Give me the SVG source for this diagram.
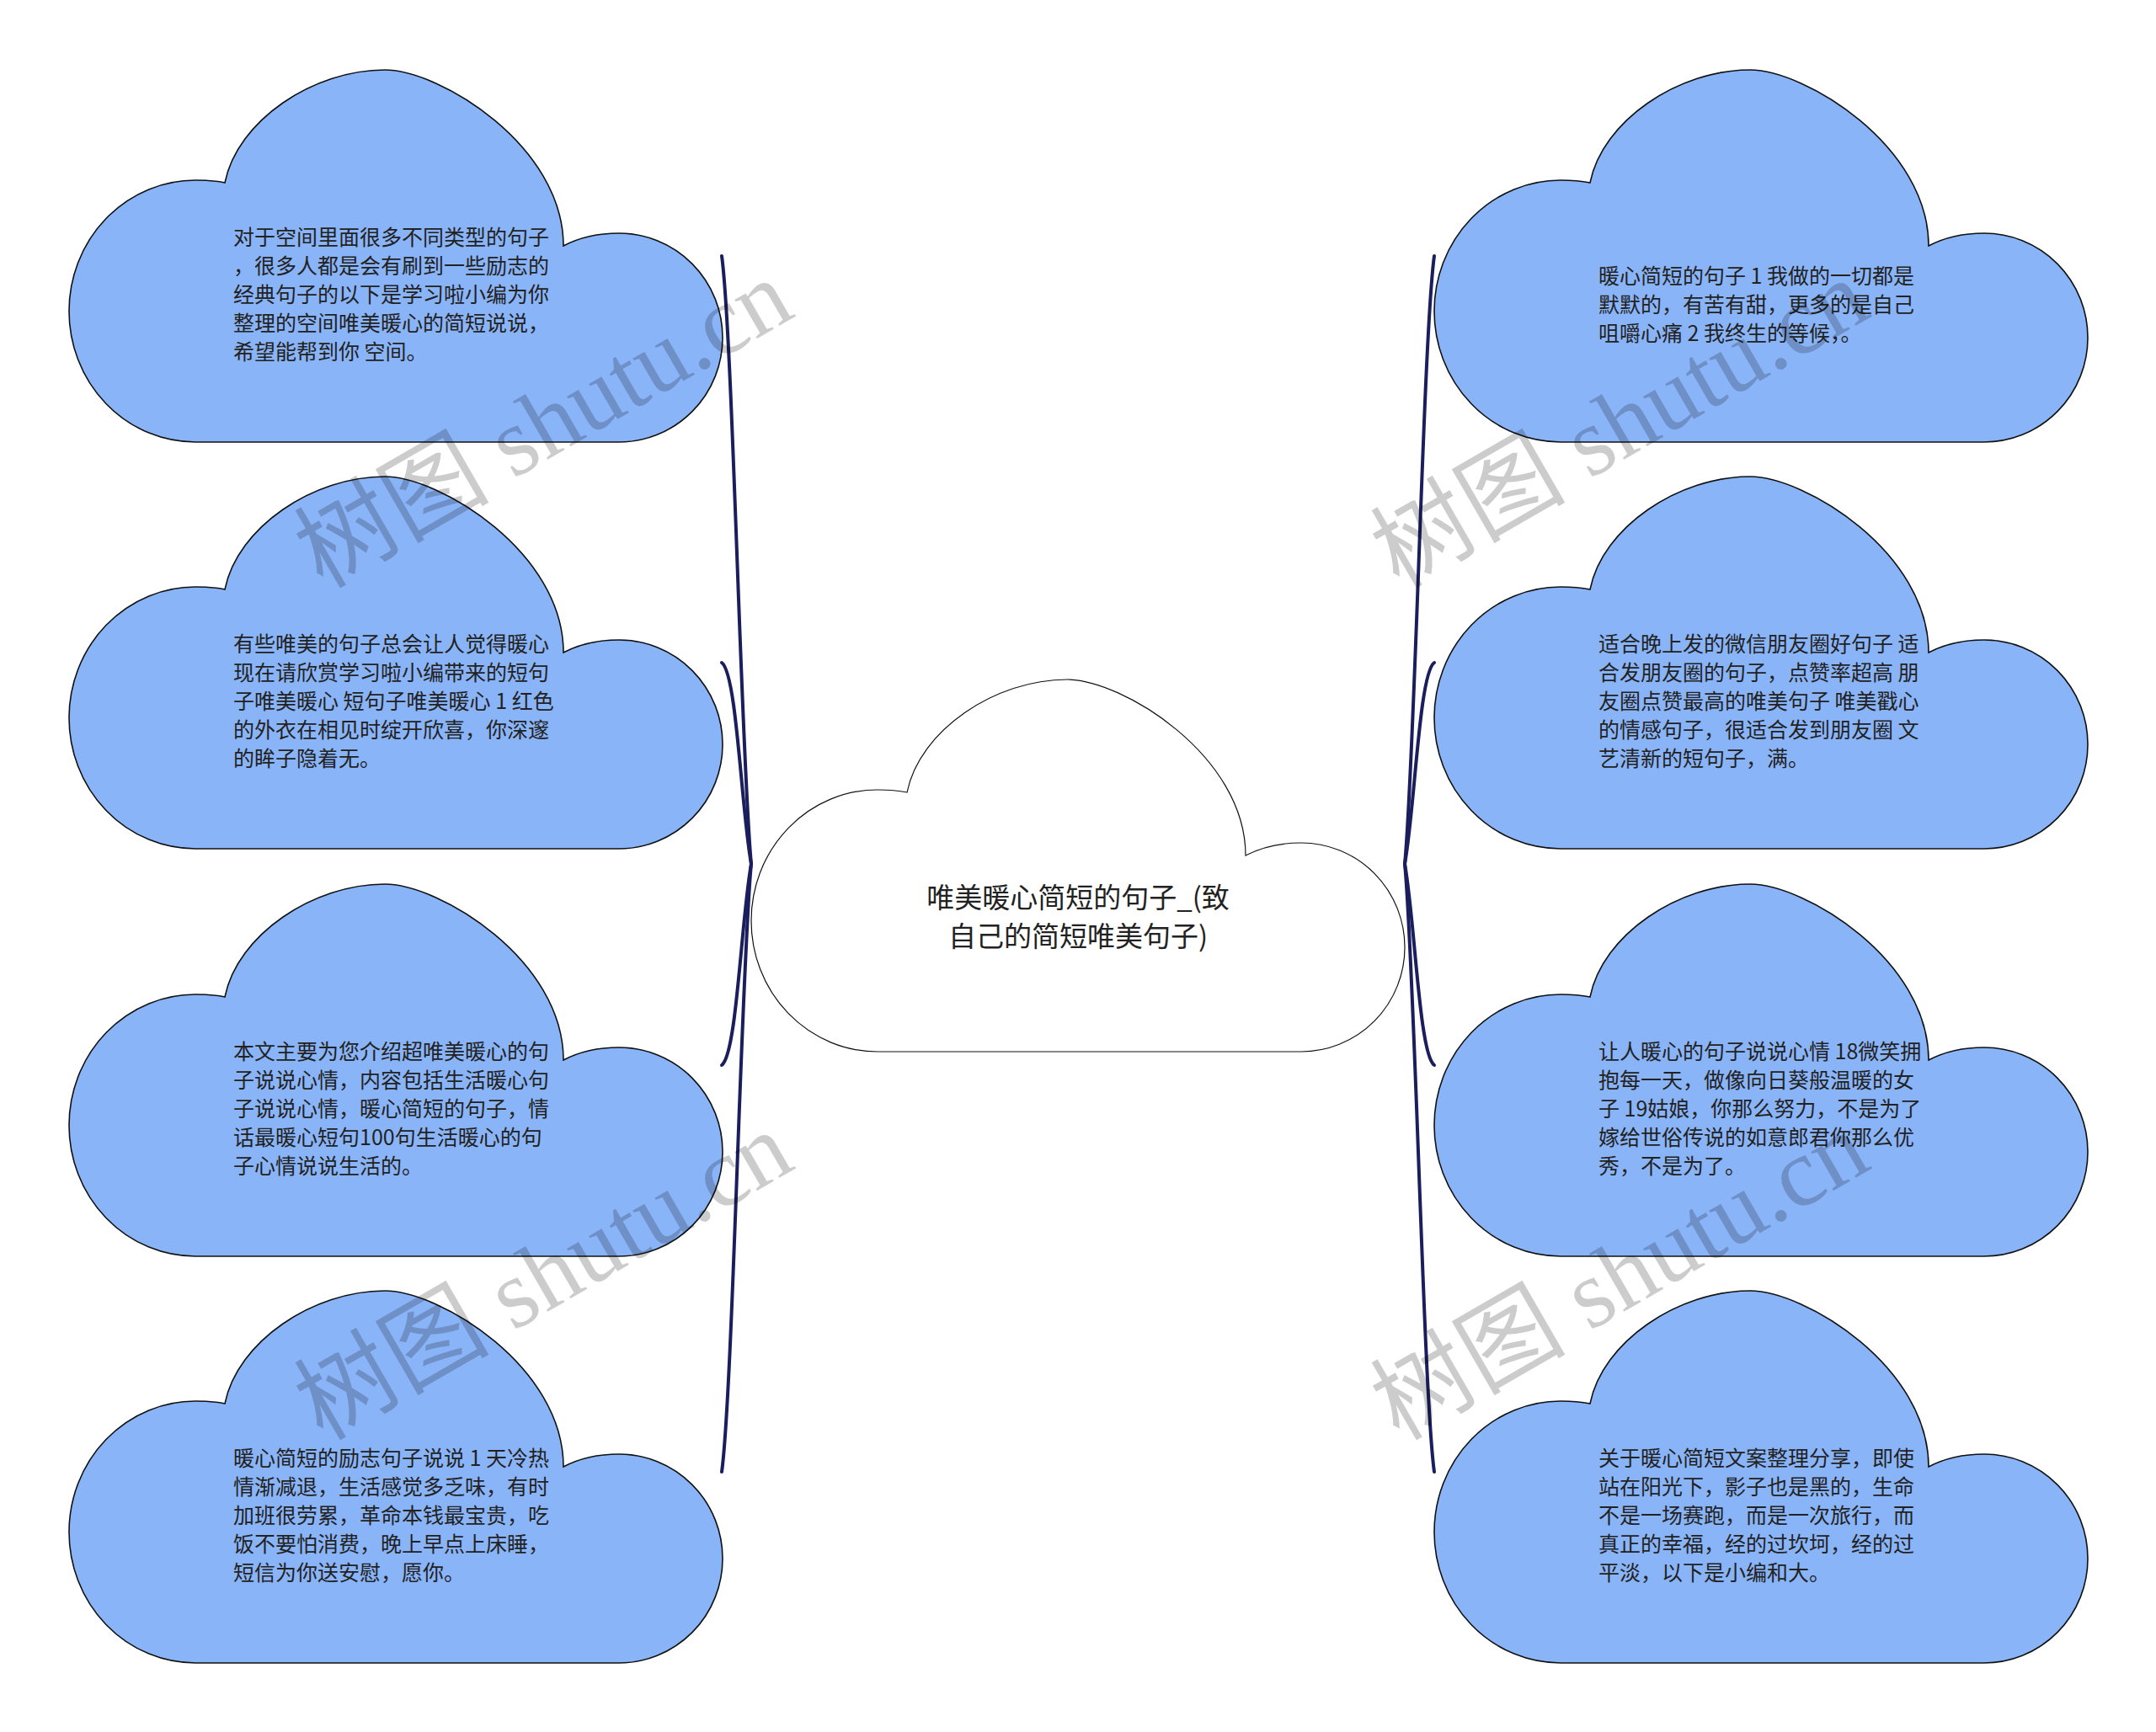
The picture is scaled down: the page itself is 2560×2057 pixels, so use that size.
<svg xmlns="http://www.w3.org/2000/svg" xmlns:xlink="http://www.w3.org/1999/xlink" width="2560" height="2057" viewBox="0 0 2560 2057">
<style>
.blue{fill:#8ab4f8;stroke:#111;stroke-width:1.6}
.center{fill:#fff;stroke:#111;stroke-width:1.2}
.t{font-family:"Noto Sans CJK SC","Noto Sans",sans-serif;font-size:25px;fill:#222}
.ct{font-family:"Noto Sans CJK SC","Noto Sans",sans-serif;font-size:33px;fill:#222;text-anchor:middle}
.conn{fill:none;stroke:#1b1e5c;stroke-width:4;stroke-linecap:round}
.wm{font-family:"Liberation Serif","Noto Sans CJK SC",serif;font-size:116px;fill:#000;fill-opacity:0.2}
</style>
<defs>
<path id="cloud" d="M150,442 A150 155.5 0 0 1 0,286.5 A150 155.5 0 0 1 150,131 C163,131 175,132 185,134 C200,60 290,0 375,0 C440,0 587,90 587,209 C606,199 628,194 653,194 A123 124 0 0 1 776,318 A123 124 0 0 1 653,442 Z"/>
</defs>
<rect width="2560" height="2057" fill="#fff"/>
<g id="connectors">
<path class="conn" d="M892,1026 C880,900 870,400 857,304"/>
<path class="conn" d="M892,1026 C880,960 875,800 857,787"/>
<path class="conn" d="M892,1026 C880,1092 875,1252 857,1265"/>
<path class="conn" d="M892,1026 C880,1152 870,1652 857,1748"/>
<path class="conn" d="M1668,1026 C1680,900 1690,400 1703,304"/>
<path class="conn" d="M1668,1026 C1680,960 1685,800 1703,787"/>
<path class="conn" d="M1668,1026 C1680,1092 1685,1252 1703,1265"/>
<path class="conn" d="M1668,1026 C1680,1152 1690,1652 1703,1748"/>
</g>
<g id="node-center" transform="translate(892,807)">
<use href="#cloud" class="center"/>
<text class="ct"><tspan x="388" y="271">唯美暖心简短的句子_(致</tspan><tspan x="388" y="317">自己的简短唯美句子)</tspan></text>
</g>
<g id="node-l1" transform="translate(82,83)">
<use href="#cloud" class="blue"/>
<text class="t"><tspan x="195" y="208">对于空间里面很多不同类型的句子</tspan><tspan x="195" y="242">，很多人都是会有刷到一些励志的</tspan><tspan x="195" y="276">经典句子的以下是学习啦小编为你</tspan><tspan x="195" y="310">整理的空间唯美暖心的简短说说，</tspan><tspan x="195" y="344">希望能帮到你 空间。</tspan></text>
</g>
<g id="node-l2" transform="translate(82,566)">
<use href="#cloud" class="blue"/>
<text class="t"><tspan x="195" y="208">有些唯美的句子总会让人觉得暖心</tspan><tspan x="195" y="242">现在请欣赏学习啦小编带来的短句</tspan><tspan x="195" y="276">子唯美暖心 短句子唯美暖心 1 红色</tspan><tspan x="195" y="310">的外衣在相见时绽开欣喜，你深邃</tspan><tspan x="195" y="344">的眸子隐着无。</tspan></text>
</g>
<g id="node-l3" transform="translate(82,1050)">
<use href="#cloud" class="blue"/>
<text class="t"><tspan x="195" y="208">本文主要为您介绍超唯美暖心的句</tspan><tspan x="195" y="242">子说说心情，内容包括生活暖心句</tspan><tspan x="195" y="276">子说说心情，暖心简短的句子，情</tspan><tspan x="195" y="310">话最暖心短句100句生活暖心的句</tspan><tspan x="195" y="344">子心情说说生活的。</tspan></text>
</g>
<g id="node-l4" transform="translate(82,1533)">
<use href="#cloud" class="blue"/>
<text class="t"><tspan x="195" y="208">暖心简短的励志句子说说 1 天冷热</tspan><tspan x="195" y="242">情渐减退，生活感觉多乏味，有时</tspan><tspan x="195" y="276">加班很劳累，革命本钱最宝贵，吃</tspan><tspan x="195" y="310">饭不要怕消费，晚上早点上床睡，</tspan><tspan x="195" y="344">短信为你送安慰，愿你。</tspan></text>
</g>
<g id="node-r1" transform="translate(1703,83)">
<use href="#cloud" class="blue"/>
<text class="t"><tspan x="195" y="254">暖心简短的句子 1 我做的一切都是</tspan><tspan x="195" y="288">默默的，有苦有甜，更多的是自己</tspan><tspan x="195" y="322">咀嚼心痛 2 我终生的等候，。</tspan></text>
</g>
<g id="node-r2" transform="translate(1703,566)">
<use href="#cloud" class="blue"/>
<text class="t"><tspan x="195" y="208">适合晚上发的微信朋友圈好句子 适</tspan><tspan x="195" y="242">合发朋友圈的句子，点赞率超高 朋</tspan><tspan x="195" y="276">友圈点赞最高的唯美句子 唯美戳心</tspan><tspan x="195" y="310">的情感句子，很适合发到朋友圈 文</tspan><tspan x="195" y="344">艺清新的短句子，满。</tspan></text>
</g>
<g id="node-r3" transform="translate(1703,1050)">
<use href="#cloud" class="blue"/>
<text class="t"><tspan x="195" y="208">让人暖心的句子说说心情 18微笑拥</tspan><tspan x="195" y="242">抱每一天，做像向日葵般温暖的女</tspan><tspan x="195" y="276">子 19姑娘，你那么努力，不是为了</tspan><tspan x="195" y="310">嫁给世俗传说的如意郎君你那么优</tspan><tspan x="195" y="344">秀，不是为了。</tspan></text>
</g>
<g id="node-r4" transform="translate(1703,1533)">
<use href="#cloud" class="blue"/>
<text class="t"><tspan x="195" y="208">关于暖心简短文案整理分享，即使</tspan><tspan x="195" y="242">站在阳光下，影子也是黑的，生命</tspan><tspan x="195" y="276">不是一场赛跑，而是一次旅行，而</tspan><tspan x="195" y="310">真正的幸福，经的过坎坷，经的过</tspan><tspan x="195" y="344">平淡，以下是小编和大。</tspan></text>
</g>
<g id="watermarks">
<text class="wm" transform="translate(383,700) rotate(-30)">树图 shutu.cn</text>
<text class="wm" transform="translate(1661,700) rotate(-30)">树图 shutu.cn</text>
<text class="wm" transform="translate(383,1712) rotate(-30)">树图 shutu.cn</text>
<text class="wm" transform="translate(1661,1712) rotate(-30)">树图 shutu.cn</text>
</g>
</svg>
